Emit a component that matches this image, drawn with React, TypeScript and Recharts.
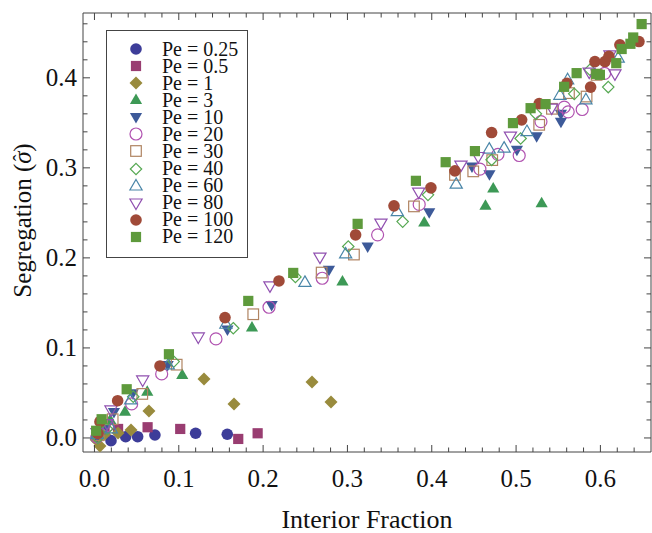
import React from 'react';
import { ScatterChart, Scatter, XAxis, YAxis } from 'recharts';

// values: [interior fraction, segregation]
const pe0_25 = [[0.002, 0.0], [0.006, 0.003], [0.0196, -0.003], [0.037, 0.0014], [0.0512, 0.0014], [0.0717, 0.0033], [0.12, 0.0052], [0.1575, 0.0041]];
const pe0_5 = [[0.003, 0.004], [0.012, 0.007], [0.028, 0.01], [0.063, 0.0119], [0.1017, 0.01], [0.1705, -0.0011], [0.1935, 0.0052]];
const pe1 = [[0.002, -0.002], [0.0065, -0.009], [0.012, 0.004], [0.0279, 0.0056], [0.0433, 0.0089], [0.0646, 0.03], [0.1299, 0.0656], [0.1655, 0.0378], [0.258, 0.0622], [0.2805, 0.04]];
const pe3 = [[0.004, 0.006], [0.0187, 0.02], [0.0362, 0.0292], [0.0626, 0.0514], [0.1041, 0.07], [0.1868, 0.1226], [0.2941, 0.1739], [0.3911, 0.2392], [0.4637, 0.2578], [0.4729, 0.2772], [0.5303, 0.2608]];
const pe10 = [[0.003, 0.002], [0.012, 0.01], [0.0231, 0.0289], [0.0453, 0.0497], [0.0868, 0.0811], [0.1577, 0.1206], [0.2101, 0.1478], [0.2781, 0.1867], [0.324, 0.2126], [0.397, 0.2508], [0.4477, 0.3014], [0.4684, 0.2928], [0.501, 0.32], [0.5244, 0.335], [0.5532, 0.3511], [0.5532, 0.36], [0.595, 0.405]];
const pe20 = [[0.003, 0.001], [0.016, 0.014], [0.0441, 0.0378], [0.0797, 0.0711], [0.1441, 0.11], [0.207, 0.1452], [0.2701, 0.1774], [0.3358, 0.2256], [0.3851, 0.2594], [0.4571, 0.2986], [0.4785, 0.315], [0.5037, 0.3137], [0.5295, 0.3514], [0.5571, 0.3674], [0.5618, 0.3622], [0.5784, 0.3648], [0.605, 0.405]];
const pe30 = [[0.005, 0.003], [0.0216, 0.0208], [0.0567, 0.0489], [0.0975, 0.0814], [0.1883, 0.1374], [0.2694, 0.1837], [0.3077, 0.2037], [0.3789, 0.2572], [0.4275, 0.2922], [0.4492, 0.2961], [0.4717, 0.3086], [0.5274, 0.3478], [0.5425, 0.3656], [0.5627, 0.383], [0.5836, 0.3792], [0.5955, 0.4033]];
const pe40 = [[0.004, 0.0], [0.015, 0.01], [0.046, 0.0459], [0.0939, 0.0848], [0.1646, 0.1219], [0.2383, 0.1789], [0.301, 0.2126], [0.3655, 0.2403], [0.3955, 0.27], [0.471, 0.3089], [0.5054, 0.3326], [0.5235, 0.36], [0.569, 0.3822], [0.5876, 0.4089], [0.6093, 0.3897]];
const pe60 = [[0.003, 0.004], [0.02, 0.01], [0.0429, 0.0422], [0.0875, 0.0811], [0.1559, 0.1263], [0.2496, 0.1728], [0.2979, 0.2044], [0.3591, 0.2514], [0.429, 0.2819], [0.4682, 0.3208], [0.4858, 0.3219], [0.5129, 0.3403], [0.552, 0.3806], [0.5611, 0.3978], [0.5828, 0.3756], [0.6211, 0.4219]];
const pe80 = [[0.003, 0.006], [0.015, 0.016], [0.0196, 0.0311], [0.0572, 0.0644], [0.1231, 0.1122], [0.2081, 0.1689], [0.2674, 0.2008], [0.3397, 0.2386], [0.3845, 0.273], [0.4346, 0.303], [0.4551, 0.3126], [0.4933, 0.3352], [0.5422, 0.3663], [0.5867, 0.4063], [0.6113, 0.4256], [0.6172, 0.4044]];
const pe100 = [[0.004, 0.005], [0.0065, 0.0181], [0.0275, 0.0414], [0.0777, 0.08], [0.1548, 0.1337], [0.2188, 0.1744], [0.3097, 0.2256], [0.3552, 0.2578], [0.399, 0.2778], [0.4275, 0.2967], [0.471, 0.3392], [0.5066, 0.3533], [0.5274, 0.3713], [0.5603, 0.3939], [0.5884, 0.3897], [0.5935, 0.4181], [0.6054, 0.4181], [0.6101, 0.4239], [0.6231, 0.4367], [0.6457, 0.4403]];
const pe120 = [[0.002, 0.008], [0.0085, 0.0208], [0.0382, 0.0541], [0.0883, 0.093], [0.1824, 0.1522], [0.2357, 0.1833], [0.3121, 0.2378], [0.3812, 0.2856], [0.4165, 0.3063], [0.4512, 0.3186], [0.4963, 0.3497], [0.5172, 0.3663], [0.535, 0.3708], [0.557, 0.39], [0.5718, 0.4052], [0.5951, 0.4044], [0.5994, 0.4033], [0.6188, 0.4163], [0.6252, 0.432], [0.6356, 0.4378], [0.6389, 0.4448], [0.6489, 0.4597]];

const labels = ['Pe = 0.25', 'Pe = 0.5', 'Pe = 1', 'Pe = 3', 'Pe = 10', 'Pe = 20', 'Pe = 30', 'Pe = 40', 'Pe = 60', 'Pe = 80', 'Pe = 100', 'Pe = 120'];

const xTicks = [0, 0.02, 0.04, 0.06, 0.08, 0.1, 0.12, 0.14, 0.16, 0.18, 0.2, 0.22, 0.24, 0.26, 0.28, 0.3, 0.32, 0.34, 0.36, 0.38, 0.4, 0.42, 0.44, 0.46, 0.48, 0.5, 0.52, 0.54, 0.56, 0.58, 0.6, 0.62, 0.64];
const yTicks = [0, 0.02, 0.04, 0.06, 0.08, 0.1, 0.12, 0.14, 0.16, 0.18, 0.2, 0.22, 0.24, 0.26, 0.28, 0.3, 0.32, 0.34, 0.36, 0.38, 0.4, 0.42, 0.44, 0.46];

const FONT = '"Liberation Serif", "Times New Roman", serif';
const FRAME = '#444';

type Kind = 'circle' | 'square' | 'diamond' | 'up' | 'down';

const series: { data: number[][]; color: string; kind: Kind; filled: boolean }[] = [
  { data: pe0_25, color: '#3d3d99', kind: 'circle', filled: true },
  { data: pe0_5, color: '#993d71', kind: 'square', filled: true },
  { data: pe1, color: '#998b3d', kind: 'diamond', filled: true },
  { data: pe3, color: '#3d9956', kind: 'up', filled: true },
  { data: pe10, color: '#3d5a99', kind: 'down', filled: true },
  { data: pe20, color: '#b052b0', kind: 'circle', filled: false },
  { data: pe30, color: '#b08462', kind: 'square', filled: false },
  { data: pe40, color: '#56a852', kind: 'diamond', filled: false },
  { data: pe60, color: '#4a86a8', kind: 'up', filled: false },
  { data: pe80, color: '#9050b0', kind: 'down', filled: false },
  { data: pe100, color: '#a04a38', kind: 'circle', filled: true },
  { data: pe120, color: '#5e9a3c', kind: 'square', filled: true },
];

function Marker({ cx, cy, kind, filled, color }: { cx: number; cy: number; kind: Kind; filled: boolean; color: string }) {
  const paint = filled ? { fill: color, stroke: 'none' } : { fill: 'none', stroke: color, strokeWidth: 1.2 };
  if (kind === 'circle') return <circle cx={cx} cy={cy} r={filled ? 5.8 : 6} {...paint} />;
  if (kind === 'square') {
    const h = filled ? 5.1 : 5.3;
    return <rect x={cx - h} y={cy - h} width={2 * h} height={2 * h} {...paint} />;
  }
  if (kind === 'diamond') {
    const h = filled ? 6.5 : 5.7;
    return <polygon points={`${cx},${cy - h} ${cx + h},${cy} ${cx},${cy + h} ${cx - h},${cy}`} {...paint} />;
  }
  const s = kind === 'up' ? 1 : -1;
  return <polygon points={`${cx},${cy - 6.5 * s} ${cx + 6.1},${cy + 4 * s} ${cx - 6.1},${cy + 4 * s}`} {...paint} />;
}

const isMajor = (v: number) => Math.abs(v * 10 - Math.round(v * 10)) < 1e-6;

function BottomTick({ x, y, payload }: any) {
  const major = isMajor(payload.value);
  return (
    <g>
      <line x1={x} y1={y} x2={x} y2={y - (major ? 7 : 4.5)} stroke={FRAME} />
      {major && (
        <text x={x} y={y + 35} textAnchor="middle" fontSize={25} fontFamily={FONT} fill="#111">
          {payload.value.toFixed(1)}
        </text>
      )}
    </g>
  );
}

function TopTick({ x, y, payload }: any) {
  const major = isMajor(payload.value);
  return <line x1={x} y1={y} x2={x} y2={y + (major ? 7 : 4.5)} stroke={FRAME} />;
}

function LeftTick({ x, y, payload }: any) {
  const major = isMajor(payload.value);
  return (
    <g>
      <line x1={x} y1={y} x2={x + (major ? 7 : 4.5)} y2={y} stroke={FRAME} />
      {major && (
        <text x={x - 6} y={y + 8.5} textAnchor="end" fontSize={25} fontFamily={FONT} fill="#111">
          {payload.value.toFixed(1)}
        </text>
      )}
    </g>
  );
}

function RightTick({ x, y, payload }: any) {
  const major = isMajor(payload.value);
  return <line x1={x} y1={y} x2={x - (major ? 7 : 4.5)} y2={y} stroke={FRAME} />;
}

const xTitle = ({ viewBox }: any) => (
  <text x={viewBox.x + viewBox.width / 2} y={528} textAnchor="middle" fontSize={26} fontFamily={FONT} fill="#111">
    Interior Fraction
  </text>
);

const yTitle = ({ viewBox }: any) => {
  const cx = 22;
  const cy = viewBox.y + viewBox.height / 2 - 12;
  return (
    <text x={cx} y={cy} transform={`rotate(-90 ${cx} ${cy})`} textAnchor="middle" dominantBaseline="central" fontSize={25} fontFamily={FONT} fill="#111">
      Segregation (<tspan fontStyle="italic">σ</tspan>
      <tspan dx={-10} dy={-1} fontSize={20}>ˆ</tspan>
      <tspan dx={3} dy={1}>)</tspan>
    </text>
  );
};

function LegendBox() {
  return (
    <div
      style={{
        position: 'absolute', left: 106, top: 30, width: 142, height: 228, boxSizing: 'border-box',
        border: `1px solid ${FRAME}`, background: '#fff', paddingTop: 9.5, fontFamily: FONT,
      }}
    >
      {series.map((s, i) => (
        <div key={labels[i]} style={{ position: 'relative', height: 17.09 }}>
          <svg width={16} height={16} style={{ position: 'absolute', left: 21, top: 0.5 }}>
            <Marker cx={8} cy={8} kind={s.kind} filled={s.filled} color={s.color} />
          </svg>
          <span style={{ position: 'absolute', left: 55, top: 0, fontSize: 20, lineHeight: '17px', color: '#111', whiteSpace: 'nowrap' }}>
            {labels[i]}
          </span>
        </div>
      ))}
    </div>
  );
}

export default function App() {
  return (
    <div style={{ position: 'absolute', left: 0, top: 0, width: 652, height: 533, background: '#fff' }}>
      <ScatterChart width={652} height={533} margin={{ top: 12, right: 0, bottom: 80, left: 82 }}>
        <XAxis
          xAxisId="b" orientation="bottom" type="number" dataKey="x" domain={[-0.0136, 0.66]} allowDataOverflow
          ticks={xTicks} interval={0} tickSize={0} tickMargin={0} tickLine={false} height={1}
          axisLine={{ stroke: FRAME }} tick={BottomTick} label={xTitle}
        />
        <XAxis
          xAxisId="t" orientation="top" type="number" dataKey="x" domain={[-0.0136, 0.66]} allowDataOverflow
          ticks={xTicks} interval={0} tickSize={0} tickMargin={0} tickLine={false} height={1}
          axisLine={{ stroke: FRAME }} tick={TopTick}
        />
        <YAxis
          yAxisId="l" orientation="left" type="number" dataKey="y" domain={[-0.0156, 0.472]} allowDataOverflow
          ticks={yTicks} interval={0} tickSize={0} tickMargin={0} tickLine={false} width={1}
          axisLine={{ stroke: FRAME }} tick={LeftTick} label={yTitle}
        />
        <YAxis
          yAxisId="r" orientation="right" type="number" dataKey="y" domain={[-0.0156, 0.472]} allowDataOverflow
          ticks={yTicks} interval={0} tickSize={0} tickMargin={0} tickLine={false} width={1}
          axisLine={{ stroke: FRAME }} tick={RightTick}
        />
        {series.map((s, i) => (
          <Scatter
            key={labels[i]}
            name={labels[i]}
            xAxisId="b"
            yAxisId="l"
            data={s.data.map(([x, y]) => ({ x, y }))}
            isAnimationActive={false}
            shape={(p: any) => <Marker cx={p.cx} cy={p.cy} kind={s.kind} filled={s.filled} color={s.color} />}
          />
        ))}
      </ScatterChart>
      <LegendBox />
    </div>
  );
}
